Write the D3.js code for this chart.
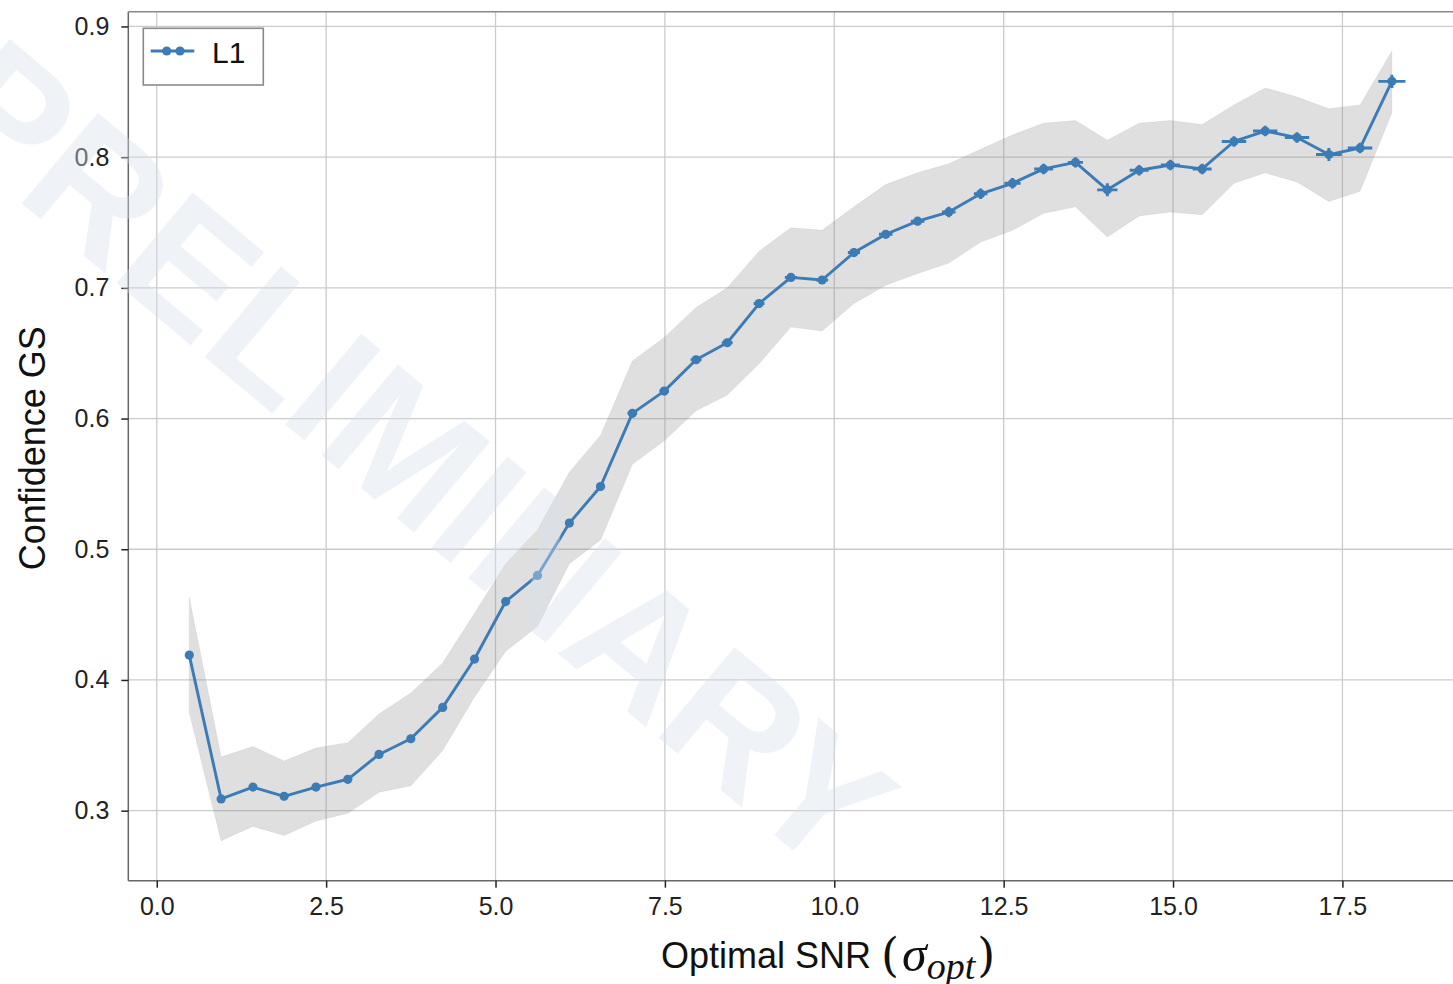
<!DOCTYPE html>
<html>
<head>
<meta charset="utf-8">
<script src="https://cdn.jsdelivr.net/npm/d3@7"></script>
<style>
  html, body { margin: 0; padding: 0; background: #fff; }
  svg { display: block; }
</style>
</head>
<body>
<script>
// ---------------- data ----------------
const snr = [0.48, 0.95, 1.42, 1.88, 2.35, 2.82, 3.28, 3.75, 4.22, 4.69, 5.15, 5.62, 6.09, 6.55, 7.02, 7.49, 7.96, 8.42, 8.89, 9.36,
             9.82, 10.29, 10.76, 11.23, 11.69, 12.16, 12.63, 13.09, 13.56, 14.03, 14.50, 14.96, 15.43, 15.90, 16.36, 16.83, 17.30, 17.76, 18.23];
const conf = [0.419, 0.309, 0.318, 0.311, 0.318, 0.324, 0.343, 0.355, 0.379, 0.416, 0.460, 0.480, 0.520, 0.548, 0.604, 0.621, 0.645, 0.658, 0.688, 0.708,
              0.706, 0.727, 0.741, 0.751, 0.758, 0.772, 0.780, 0.791, 0.796, 0.775, 0.790, 0.794, 0.791, 0.812, 0.820, 0.815, 0.802, 0.807, 0.858];
const bandUpper = [0.463, 0.341, 0.349, 0.338, 0.348, 0.352, 0.374, 0.390, 0.413, 0.451, 0.489, 0.515, 0.559, 0.587, 0.644, 0.662, 0.685, 0.700, 0.728, 0.746,
                   0.744, 0.762, 0.779, 0.788, 0.795, 0.806, 0.817, 0.826, 0.828, 0.813, 0.826, 0.828, 0.825, 0.840, 0.853, 0.846, 0.837, 0.840, 0.881];
const bandLower = [0.375, 0.277, 0.288, 0.281, 0.292, 0.298, 0.314, 0.319, 0.346, 0.387, 0.422, 0.441, 0.489, 0.507, 0.565, 0.583, 0.606, 0.618, 0.642, 0.670,
                   0.667, 0.688, 0.702, 0.711, 0.719, 0.735, 0.744, 0.757, 0.762, 0.739, 0.755, 0.758, 0.756, 0.780, 0.788, 0.781, 0.766, 0.774, 0.834];
const snrErr = [0.03, 0.03, 0.03, 0.03, 0.03, 0.03, 0.03, 0.03, 0.04, 0.04, 0.04, 0.05, 0.05, 0.06, 0.07, 0.07, 0.08, 0.08, 0.08, 0.09,
                0.09, 0.09, 0.10, 0.10, 0.10, 0.10, 0.12, 0.14, 0.11, 0.15, 0.14, 0.14, 0.14, 0.18, 0.18, 0.18, 0.19, 0.18, 0.20];
const confErr = [0.003, 0.003, 0.003, 0.003, 0.003, 0.003, 0.003, 0.003, 0.003, 0.003, 0.003, 0.003, 0.003, 0.003, 0.003, 0.003, 0.003, 0.003, 0.003, 0.003,
                 0.003, 0.003, 0.003, 0.003, 0.004, 0.004, 0.004, 0.004, 0.004, 0.005, 0.004, 0.004, 0.004, 0.004, 0.004, 0.004, 0.005, 0.004, 0.005];
const xTicks = [0.0, 2.5, 5.0, 7.5, 10.0, 12.5, 15.0, 17.5];
const yTicks = [0.3, 0.4, 0.5, 0.6, 0.7, 0.8, 0.9];
const seriesName = "L1";
const yLabel = "Confidence GS";
const xLabelMain = "Optimal SNR ";
const watermark = "PRELIMINARY";

// ---------------- layout ----------------
const W = 1453, H = 984;
const plot = { left: 128.3, top: 11.7, right: 1457.6, bottom: 880.7 };
const blue = "#3b7bb6";

const svg = d3.select("body").append("svg").attr("width", W).attr("height", H);

const x = d3.scaleLinear().domain([-0.42, 19.2]).range([plot.left, plot.right]);
const y = d3.scaleLinear().domain([0.2464, 0.9113]).range([plot.bottom, plot.top]);

const data = snr.map((s, i) => ({ x: s, y: conf[i], lo: bandLower[i], hi: bandUpper[i], xe: snrErr[i], ye: confErr[i] }));

// clip
svg.append("clipPath").attr("id", "clip").append("rect")
  .attr("x", plot.left).attr("y", plot.top)
  .attr("width", plot.right - plot.left).attr("height", plot.bottom - plot.top);

// grid
const grid = svg.append("g");
grid.selectAll("line.gx").data(xTicks).join("line")
  .attr("x1", d => x(d)).attr("x2", d => x(d))
  .attr("y1", plot.top).attr("y2", plot.bottom)
  .attr("stroke", "#cbcbcb").attr("stroke-width", 1.3);
grid.selectAll("line.gy").data(yTicks).join("line")
  .attr("y1", d => y(d)).attr("y2", d => y(d))
  .attr("x1", plot.left).attr("x2", plot.right)
  .attr("stroke", "#cbcbcb").attr("stroke-width", 1.3);

const g = svg.append("g").attr("clip-path", "url(#clip)");

// band
const area = d3.area().x(d => x(d.x)).y0(d => y(d.lo)).y1(d => y(d.hi));
g.append("path").datum(data).attr("d", area)
  .attr("fill", "#8c8c8c").attr("fill-opacity", 0.28)
  .attr("stroke", "#8c8c8c").attr("stroke-opacity", 0.12).attr("stroke-width", 1);

// line
const line = d3.line().x(d => x(d.x)).y(d => y(d.y));
g.append("path").datum(data).attr("d", line)
  .attr("fill", "none").attr("stroke", blue).attr("stroke-width", 2.9).attr("stroke-linejoin", "round");

// error bars
g.selectAll("line.xe").data(data).join("line")
  .attr("x1", d => x(d.x - d.xe)).attr("x2", d => x(d.x + d.xe))
  .attr("y1", d => y(d.y)).attr("y2", d => y(d.y))
  .attr("stroke", blue).attr("stroke-width", 2.9);
g.selectAll("line.ye").data(data).join("line")
  .attr("x1", d => x(d.x)).attr("x2", d => x(d.x))
  .attr("y1", d => y(d.y - d.ye)).attr("y2", d => y(d.y + d.ye))
  .attr("stroke", blue).attr("stroke-width", 2.9);

// markers
g.selectAll("circle").data(data).join("circle")
  .attr("cx", d => x(d.x)).attr("cy", d => y(d.y)).attr("r", 4.6)
  .attr("fill", blue);

// axes spines
svg.append("line").attr("x1", plot.left).attr("x2", plot.left).attr("y1", plot.top).attr("y2", plot.bottom)
  .attr("stroke", "#666").attr("stroke-width", 1.5);
svg.append("line").attr("x1", plot.left).attr("x2", plot.right).attr("y1", plot.bottom).attr("y2", plot.bottom)
  .attr("stroke", "#666").attr("stroke-width", 1.5);
svg.append("line").attr("x1", plot.left).attr("x2", plot.right).attr("y1", plot.top).attr("y2", plot.top)
  .attr("stroke", "#888").attr("stroke-width", 1.5);

// axes via d3
const xAxis = d3.axisBottom(x).tickValues(xTicks).tickFormat(d3.format(".1f")).tickSize(7).tickPadding(10);
const yAxis = d3.axisLeft(y).tickValues(yTicks).tickFormat(d3.format(".1f")).tickSize(7).tickPadding(12);

const gx = svg.append("g").attr("transform", `translate(0,${plot.bottom})`).call(xAxis);
const gy = svg.append("g").attr("transform", `translate(${plot.left},0)`).call(yAxis);
[gx, gy].forEach(a => {
  a.select(".domain").remove();
  a.selectAll(".tick line").attr("stroke", "#222").attr("stroke-width", 1.5);
  a.selectAll(".tick text").attr("fill", "#222")
    .style("font-family", "'Liberation Sans', Arial, sans-serif").style("font-size", "25px");
});

// axis labels
svg.append("text")
  .attr("transform", `translate(45,${(plot.top + plot.bottom) / 2 + 2}) rotate(-90)`)
  .attr("text-anchor", "middle")
  .style("font-family", "'Liberation Sans', Arial, sans-serif").style("font-size", "36px")
  .attr("fill", "#111").text(yLabel);

const xl = svg.append("text").attr("x", 661).attr("y", 968)
  .style("font-family", "'Liberation Sans', Arial, sans-serif").style("font-size", "36px").attr("fill", "#111");
xl.append("tspan").text(xLabelMain);
xl.append("tspan").style("font-family", "'DejaVu Serif', 'Liberation Serif', serif").style("font-size", "46px").attr("dy", 3).text("(");
xl.append("tspan").style("font-family", "'Liberation Serif', serif").style("font-style", "italic").style("font-size", "50px").attr("dx", 3).text("σ");
xl.append("tspan").style("font-family", "'Liberation Serif', serif").style("font-style", "italic").style("font-size", "38px").attr("dy", 8).text("opt");
xl.append("tspan").style("font-family", "'DejaVu Serif', 'Liberation Serif', serif").style("font-size", "46px").attr("dy", -8).attr("dx", 2).text(")");

// legend
const lg = svg.append("g");
lg.append("rect").attr("x", 143.3).attr("y", 28.3).attr("width", 120).attr("height", 56.7)
  .attr("fill", "#fff").attr("stroke", "#8a8a8a").attr("stroke-width", 1.6);
lg.append("line").attr("x1", 150.7).attr("x2", 194.3).attr("y1", 51).attr("y2", 51)
  .attr("stroke", blue).attr("stroke-width", 2.9);
lg.selectAll("circle").data([166.7, 180]).join("circle")
  .attr("cx", d => d).attr("cy", 51).attr("r", 4.6).attr("fill", blue);
lg.append("text").attr("x", 212).attr("y", 63)
  .style("font-family", "'Liberation Sans', Arial, sans-serif").style("font-size", "30px")
  .attr("fill", "#111").text(seriesName);

// watermark
svg.append("text")
  .attr("transform", "translate(415,455) rotate(40)")
  .attr("text-anchor", "middle").attr("dominant-baseline", "central")
  .style("font-family", "'Liberation Sans', Arial, sans-serif").style("font-weight", "bold")
  .style("font-size", "172px")
  .attr("fill", "#d7e2ec").attr("fill-opacity", 0.4)
  .text(watermark);
</script>
</body>
</html>
